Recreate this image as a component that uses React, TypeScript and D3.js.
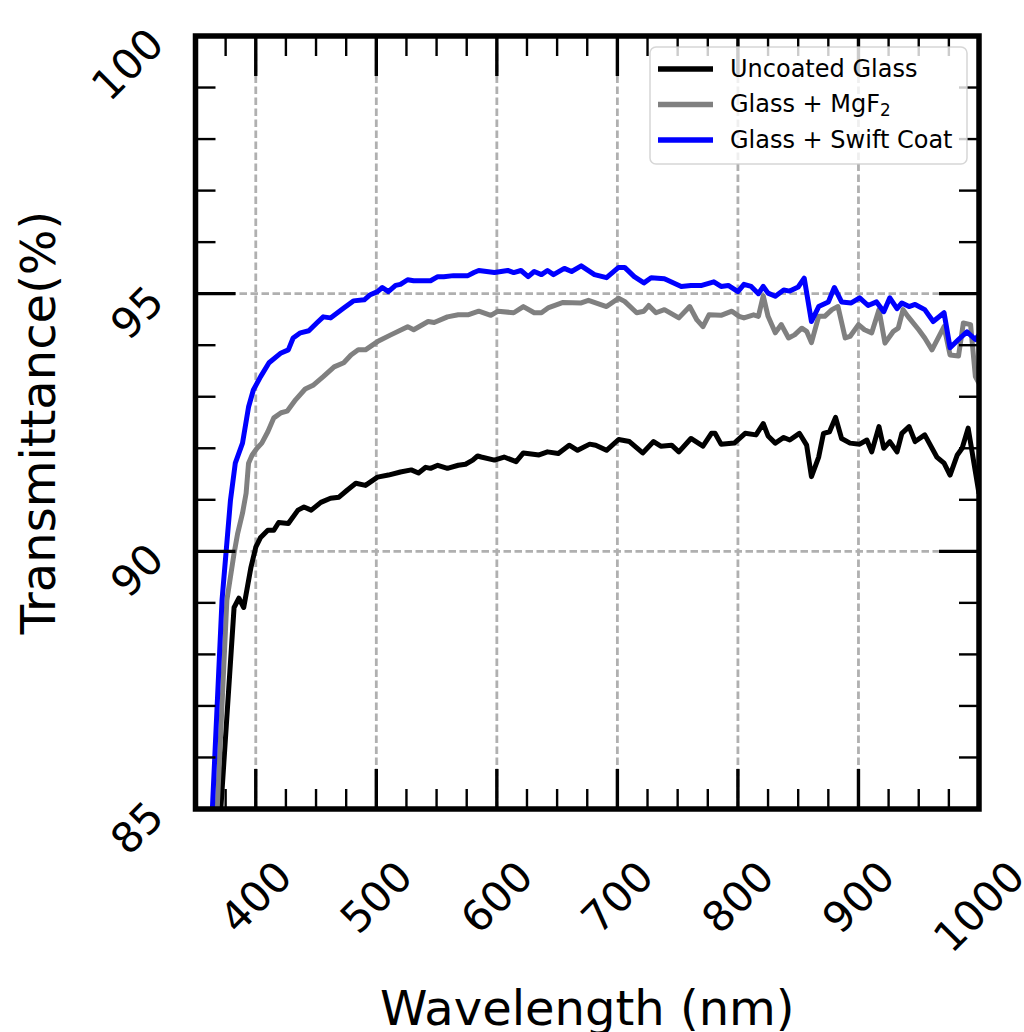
import React from 'react';
import * as d3 from 'd3';

// ---- Data ----
const uncoatedWl = [366, 371, 382, 386, 390, 396, 400, 404, 410, 415, 419, 427, 435, 440, 446, 454, 462, 469, 476, 483, 491, 501, 510, 520, 529, 535, 541, 545, 551, 559, 568, 574, 580, 584, 587, 598, 606, 616, 622, 635, 642, 651, 660, 667, 677, 682, 691, 701, 710, 721, 730, 736, 745, 751, 761, 771, 778, 781, 786, 797, 806, 815, 821, 825, 831, 838, 843, 851, 857, 861, 867, 871, 876, 881, 886, 893, 901, 907, 911, 917, 921, 926, 932, 936, 942, 947, 955, 965, 971, 976, 982, 986, 991, 1000];
const uncoatedT = [83.3, 85.0, 88.91, 89.09, 88.91, 89.69, 90.08, 90.27, 90.41, 90.41, 90.56, 90.54, 90.8, 90.86, 90.8, 90.95, 91.03, 91.05, 91.19, 91.32, 91.28, 91.44, 91.48, 91.54, 91.58, 91.52, 91.63, 91.61, 91.67, 91.61, 91.67, 91.69, 91.77, 91.85, 91.83, 91.77, 91.83, 91.74, 91.91, 91.87, 91.93, 91.9, 92.06, 91.96, 92.08, 92.06, 91.96, 92.17, 92.13, 91.91, 92.13, 92.04, 92.06, 91.93, 92.19, 92.04, 92.29, 92.29, 92.08, 92.1, 92.29, 92.26, 92.48, 92.24, 92.1, 92.21, 92.16, 92.29, 92.06, 91.45, 91.83, 92.29, 92.32, 92.6, 92.19, 92.1, 92.08, 92.16, 91.93, 92.42, 92.0, 92.13, 91.93, 92.29, 92.42, 92.13, 92.26, 91.83, 91.71, 91.48, 91.87, 92.0, 92.39, 91.12];

const mgf2Wl = [362, 368, 376, 382, 385, 389, 392, 394, 397, 401, 405, 410, 415, 421, 426, 433, 441, 448, 456, 465, 473, 479, 485, 491, 501, 512, 526, 531, 543, 548, 559, 568, 576, 585, 595, 601, 614, 622, 631, 637, 643, 655, 670, 676, 691, 701, 706, 716, 722, 726, 732, 739, 751, 760, 766, 771, 776, 786, 795, 801, 805, 813, 817, 821, 825, 831, 836, 842, 847, 853, 857, 861, 867, 872, 878, 883, 889, 893, 900, 905, 911, 917, 922, 929, 933, 937, 941, 950, 955, 961, 971, 976, 983, 987, 993, 997, 1000];
const mgf2T = [83.2, 85.0, 89.05, 89.96, 90.35, 90.74, 91.13, 91.71, 91.87, 92.0, 92.1, 92.32, 92.59, 92.69, 92.72, 92.94, 93.15, 93.23, 93.39, 93.58, 93.66, 93.81, 93.91, 93.91, 94.07, 94.2, 94.36, 94.3, 94.46, 94.44, 94.55, 94.59, 94.59, 94.66, 94.58, 94.66, 94.63, 94.75, 94.63, 94.63, 94.73, 94.83, 94.82, 94.87, 94.75, 94.91, 94.85, 94.63, 94.66, 94.77, 94.63, 94.69, 94.53, 94.75, 94.49, 94.36, 94.59, 94.58, 94.66, 94.56, 94.53, 94.59, 94.56, 94.96, 94.56, 94.24, 94.4, 94.14, 94.2, 94.33, 94.27, 94.05, 94.56, 94.56, 94.69, 94.75, 94.14, 94.17, 94.4, 94.3, 94.24, 94.69, 94.04, 94.27, 94.33, 94.69, 94.56, 94.3, 94.14, 93.91, 94.36, 93.81, 93.79, 94.43, 94.4, 93.39, 93.26];

const swiftWl = [360, 364, 372, 379, 383, 389, 394, 398, 404, 411, 421, 427, 431, 437, 444, 451, 456, 462, 473, 481, 490, 495, 501, 505, 510, 516, 520, 526, 531, 545, 551, 556, 564, 576, 581, 585, 598, 609, 614, 620, 626, 631, 637, 642, 647, 656, 662, 670, 681, 691, 701, 706, 714, 722, 728, 739, 753, 761, 770, 780, 786, 792, 800, 805, 811, 817, 821, 825, 831, 838, 843, 850, 855, 861, 867, 875, 880, 886, 894, 901, 908, 915, 921, 926, 932, 936, 942, 947, 955, 962, 971, 976, 983, 990, 997, 1000];
const swiftT = [83.2, 85.0, 89.05, 90.99, 91.71, 92.1, 92.8, 93.13, 93.39, 93.66, 93.85, 93.91, 94.14, 94.24, 94.28, 94.44, 94.55, 94.53, 94.72, 94.86, 94.88, 94.98, 95.04, 95.12, 95.04, 95.16, 95.18, 95.27, 95.25, 95.25, 95.33, 95.33, 95.35, 95.35, 95.41, 95.45, 95.41, 95.45, 95.41, 95.45, 95.33, 95.43, 95.37, 95.45, 95.37, 95.49, 95.43, 95.54, 95.37, 95.31, 95.51, 95.51, 95.33, 95.21, 95.31, 95.29, 95.14, 95.16, 95.16, 95.23, 95.14, 95.16, 95.04, 95.18, 95.14, 95.0, 95.14, 95.01, 94.95, 95.07, 95.05, 95.13, 95.3, 94.46, 94.75, 94.84, 95.12, 94.84, 94.82, 94.92, 94.77, 94.84, 94.65, 94.92, 94.71, 94.82, 94.75, 94.79, 94.69, 94.46, 94.63, 93.95, 94.11, 94.26, 94.11, 94.2];

const seriesNames = ['Uncoated Glass', 'Glass + MgF', 'Glass + Swift Coat'];
const seriesColors = ['#000000', '#808080', '#0000ff'];

const xMajorTicks = [400, 500, 600, 700, 800, 900, 1000];
const xMinorTicks = [350, 375, 425, 450, 475, 525, 550, 575, 625, 650, 675, 725, 750, 775, 825, 850, 875, 925, 950, 975];
const yMajorTicks = [85, 90, 95, 100];
const yMinorTicks = [86, 87, 88, 89, 91, 92, 93, 94, 96, 97, 98, 99];

const FONT = 'DejaVu Sans, sans-serif';

export default function App() {
  const W = 1024, H = 1032;
  const left = 195.5, right = 979, top = 36, bottom = 809;
  const x = d3.scaleLinear().domain([350, 1000]).range([left, right]);
  const y = d3.scaleLinear().domain([85, 100]).range([bottom, top]);
  const line = d3.line<[number, number]>().x(d => x(d[0])).y(d => y(d[1]));

  const series = [
    d3.zip(uncoatedWl, uncoatedT) as [number, number][],
    d3.zip(mgf2Wl, mgf2T) as [number, number][],
    d3.zip(swiftWl, swiftT) as [number, number][],
  ];

  const tickF = 42;
  const majorLen = 40, minorLen = 20;
  const gridColor = '#b0b0b0';

  const legX = 650, legY = 47, legW = 317, legH = 117;
  const legRows = [69, 104.5, 140];
  const legF = 24;

  return (
    <svg width={W} height={H} style={{ position: 'absolute', left: 0, top: 0, background: '#fff' }} fontFamily={FONT}>
      <defs>
        <clipPath id="plotClip">
          <rect x={left} y={top} width={right - left} height={bottom - top} />
        </clipPath>
      </defs>
      <rect x={0} y={0} width={W} height={H} fill="#fff" />

      {/* grid */}
      <g stroke={gridColor} strokeWidth={2.8} strokeDasharray="7.5,3.5" fill="none">
        {xMajorTicks.map(t => (
          <line key={'gx' + t} x1={x(t)} x2={x(t)} y1={bottom} y2={top} />
        ))}
        {yMajorTicks.map(t => (
          <line key={'gy' + t} x1={left} x2={right} y1={y(t)} y2={y(t)} />
        ))}
      </g>

      {/* data lines */}
      <g clipPath="url(#plotClip)" fill="none" strokeWidth={5} strokeLinejoin="round" strokeLinecap="butt">
        {series.map((s, i) => (
          <path key={i} d={line(s) || ''} stroke={seriesColors[i]} />
        ))}
      </g>

      {/* ticks (inward, all four sides) */}
      <g stroke="#000">
        {xMajorTicks.map(t => (
          <g key={'xM' + t} strokeWidth={3.4}>
            <line x1={x(t)} x2={x(t)} y1={bottom} y2={bottom - majorLen} />
            <line x1={x(t)} x2={x(t)} y1={top} y2={top + majorLen} />
          </g>
        ))}
        {xMinorTicks.map(t => (
          <g key={'xm' + t} strokeWidth={2.4}>
            <line x1={x(t)} x2={x(t)} y1={bottom} y2={bottom - minorLen} />
            <line x1={x(t)} x2={x(t)} y1={top} y2={top + minorLen} />
          </g>
        ))}
        {yMajorTicks.map(t => (
          <g key={'yM' + t} strokeWidth={3.4}>
            <line x1={left} x2={left + majorLen} y1={y(t)} y2={y(t)} />
            <line x1={right} x2={right - majorLen} y1={y(t)} y2={y(t)} />
          </g>
        ))}
        {yMinorTicks.map(t => (
          <g key={'ym' + t} strokeWidth={2.4}>
            <line x1={left} x2={left + minorLen} y1={y(t)} y2={y(t)} />
            <line x1={right} x2={right - minorLen} y1={y(t)} y2={y(t)} />
          </g>
        ))}
      </g>

      {/* spines */}
      <rect x={left} y={top} width={right - left} height={bottom - top} fill="none" stroke="#000" strokeWidth={5.5} />

      {/* x tick labels */}
      {xMajorTicks.map(t => {
        const s = String(t);
        const cx = x(t);
        const cy = 858 + ((s.length * 0.636 + 0.729) * tickF * 0.7071) / 2;
        return (
          <text key={'xl' + t} x={cx} y={cy} fontSize={tickF} textAnchor="middle" dominantBaseline="central"
            transform={`rotate(-45 ${cx} ${cy})`} fill="#000">{s}</text>
        );
      })}

      {/* y tick labels */}
      {yMajorTicks.map(t => {
        const ax = 156, ay = y(t);
        return (
          <text key={'yl' + t} x={ax} y={ay} fontSize={tickF} textAnchor="end" dominantBaseline="central"
            transform={`rotate(-45 ${ax} ${ay})`} fill="#000">{t}</text>
        );
      })}

      {/* axis labels */}
      <text x={(left + right) / 2} y={1025} fontSize={48} textAnchor="middle" fill="#000">Wavelength (nm)</text>
      <text x={55} y={(top + bottom) / 2} fontSize={48} textAnchor="middle" fill="#000"
        transform={`rotate(-90 55 ${(top + bottom) / 2})`}>Transmittance(%)</text>

      {/* legend */}
      <g>
        <rect x={legX} y={legY} width={legW} height={legH} rx={6} ry={6} fill="#fff" fillOpacity={0.8}
          stroke="#cccccc" strokeOpacity={0.8} strokeWidth={1.5} />
        {seriesNames.map((name, i) => (
          <g key={'leg' + i}>
            <line x1={658} x2={713} y1={legRows[i]} y2={legRows[i]} stroke={seriesColors[i]} strokeWidth={5.5} />
            <text x={730} y={legRows[i] + legF * 0.33} fontSize={legF} fill="#000">
              {name}
              {i === 1 ? <tspan fontSize={legF * 0.7} dy={legF * 0.15}>2</tspan> : null}
            </text>
          </g>
        ))}
      </g>
    </svg>
  );
}
